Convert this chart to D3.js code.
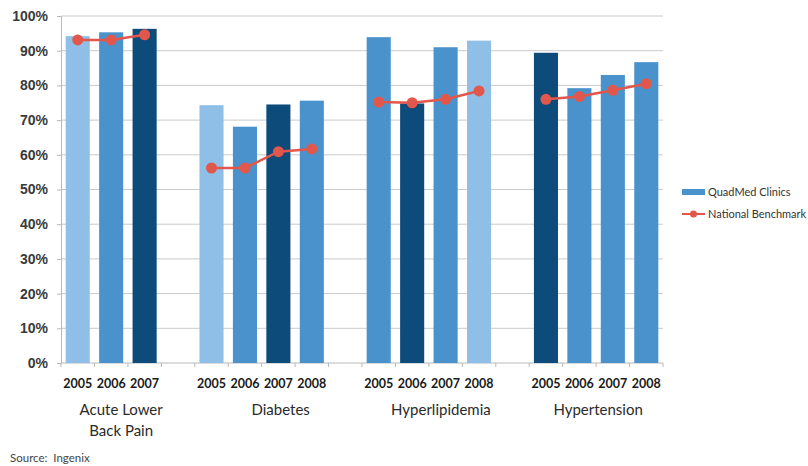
<!DOCTYPE html>
<html>
<head>
<meta charset="utf-8">
<script src="https://cdn.jsdelivr.net/npm/d3@7"></script>
<style>
  body { margin: 0; background: #fff; }
  svg { font-family: Lato, "Open Sans", sans-serif; }
</style>
</head>
<body>
<div id="chart"></div>
<script>
// measures and years
const groups = ["Acute Lower Back Pain", "Diabetes", "Hyperlipidemia", "Hypertension"];
const groupLines = [["Acute Lower", "Back Pain"], ["Diabetes"], ["Hyperlipidemia"], ["Hypertension"]];
const groupYears = [
    ["2005", "2006", "2007"],
    ["2005", "2006", "2007", "2008"],
    ["2005", "2006", "2007", "2008"],
    ["2005", "2006", "2007", "2008"]
];
// QuadMed Clinics values (%)
const clinicValues = [
    [94.2, 95.3, 96.3],
    [74.3, 68.1, 74.5, 75.6],
    [93.9, 74.8, 91.0, 92.9],
    [89.4, 79.2, 83.0, 86.7]
];
// National Benchmark values (%)
const benchmarkValues = [
    [93.1, 93.1, 94.6],
    [56.2, 56.2, 60.9, 61.7],
    [75.2, 75.0, 76.0, 78.4],
    [76.0, 76.8, 78.6, 80.5]
];
// shade of each bar: 0 light, 1 medium, 2 dark
const barShades = [
    [0, 1, 2],
    [0, 1, 2, 1],
    [1, 2, 1, 0],
    [2, 1, 1, 1]
];
const yTicks = [0, 10, 20, 30, 40, 50, 60, 70, 80, 90, 100];

const shadeColors = ["#8fbfe7", "#4a92cc", "#0d4b7b"];
const lineColor = "#e2574c";

const width = 808, height = 466;
const margin = { left: 61, right: 145, top: 16, bottom: 103 };

// slot list: each year of each group, with an empty slot between groups
const slots = [];
groups.forEach((g, gi) => {
    if (gi > 0) slots.push("gap" + gi);
    groupYears[gi].forEach(y => slots.push(g + "|" + y));
});

const x = d3.scaleBand().domain(slots)
    .range([margin.left, width - margin.right]).paddingInner(0.28).paddingOuter(0.14);
const y = d3.scaleLinear().domain([0, 100]).range([height - margin.bottom, margin.top]);

const svg = d3.select("#chart").append("svg").attr("width", width).attr("height", height);

// grid lines
svg.append("g").selectAll("line").data(yTicks.slice(1)).enter().append("line")
    .attr("x1", margin.left).attr("x2", width - margin.right)
    .attr("y1", d => y(d)).attr("y2", d => y(d))
    .attr("stroke", "#cacaca").attr("stroke-width", 1);

// y axis
const yAxis = svg.append("g").attr("transform", `translate(${margin.left},0)`)
    .call(d3.axisLeft(y).tickValues(yTicks).tickFormat(d => d + "%").tickSize(4).tickPadding(9));
yAxis.select(".domain").attr("stroke", "#b8b8b8");
yAxis.selectAll(".tick line").attr("stroke", "#b8b8b8");
yAxis.selectAll("text").attr("fill", "#3a3a3a").style("font-size", "14px").style("font-weight", "600");

// x axis line + slot boundary ticks
const x0 = margin.left;
const slotW = (width - margin.right - margin.left) / slots.length;
svg.append("line").attr("x1", margin.left).attr("x2", width - margin.right)
    .attr("y1", y(0)).attr("y2", y(0)).attr("stroke", "#b8b8b8");
svg.append("g").selectAll("line").data(d3.range(slots.length + 1)).enter().append("line")
    .attr("x1", i => x0 + i * slotW).attr("x2", i => x0 + i * slotW)
    .attr("y1", y(0)).attr("y2", y(0) + 4).attr("stroke", "#b8b8b8");

// flatten for drawing
const bars = [];
groups.forEach((g, gi) => groupYears[gi].forEach((yr, i) => bars.push({
    group: gi, key: g + "|" + yr, year: yr,
    value: clinicValues[gi][i], bench: benchmarkValues[gi][i], shade: barShades[gi][i]
})));

svg.append("g").selectAll("rect").data(bars).enter().append("rect")
    .attr("x", d => x(d.key)).attr("width", x.bandwidth())
    .attr("y", d => y(d.value)).attr("height", d => y(0) - y(d.value))
    .attr("fill", d => shadeColors[d.shade]);

// year labels
svg.append("g").selectAll("text").data(bars).enter().append("text")
    .attr("x", d => x(d.key) + x.bandwidth() / 2).attr("y", 388)
    .attr("text-anchor", "middle").attr("fill", "#1a1a1a")
    .style("font-size", "12.5px").style("font-weight", "700")
    .text(d => d.year);

// benchmark lines per group
const line = d3.line().x(d => x(d.key) + x.bandwidth() / 2).y(d => y(d.bench));
groups.forEach((g, gi) => {
    const pts = bars.filter(b => b.group === gi);
    svg.append("path").datum(pts).attr("d", line)
        .attr("fill", "none").attr("stroke", lineColor).attr("stroke-width", 2.5);
    svg.append("g").selectAll("circle").data(pts).enter().append("circle")
        .attr("cx", d => x(d.key) + x.bandwidth() / 2).attr("cy", d => y(d.bench))
        .attr("r", 5.5).attr("fill", lineColor);
});

// group labels
const labelShift = [10, 19, 12, 2];
groups.forEach((g, gi) => {
    const keys = groupYears[gi].map(yr => g + "|" + yr);
    const cx = (x(keys[0]) + x(keys[keys.length - 1]) + x.bandwidth()) / 2 + labelShift[gi];
    groupLines[gi].forEach((t, li) => {
        svg.append("text").attr("x", cx).attr("y", 415 + li * 21)
            .attr("text-anchor", "middle").attr("fill", "#2a2a2a")
            .style("font-size", "15px").text(t);
    });
});

// source
svg.append("text").attr("x", 10).attr("y", 462).attr("fill", "#444")
    .style("font-size", "11.5px").attr("xml:space", "preserve").text("Source:  Ingenix");

// legend
const lg = svg.append("g").attr("transform", "translate(682,0)");
lg.append("rect").attr("x", 0).attr("y", 189).attr("width", 23).attr("height", 6).attr("fill", shadeColors[1]);
lg.append("text").attr("x", 26).attr("y", 196).attr("fill", "#333").style("font-size", "11px").text("QuadMed Clinics");
lg.append("line").attr("x1", 0).attr("x2", 23).attr("y1", 214).attr("y2", 214).attr("stroke", lineColor).attr("stroke-width", 2);
lg.append("circle").attr("cx", 11.5).attr("cy", 214).attr("r", 3.5).attr("fill", lineColor);
lg.append("text").attr("x", 26).attr("y", 218).attr("fill", "#333").style("font-size", "11px").text("National Benchmark");
</script>
</body>
</html>
